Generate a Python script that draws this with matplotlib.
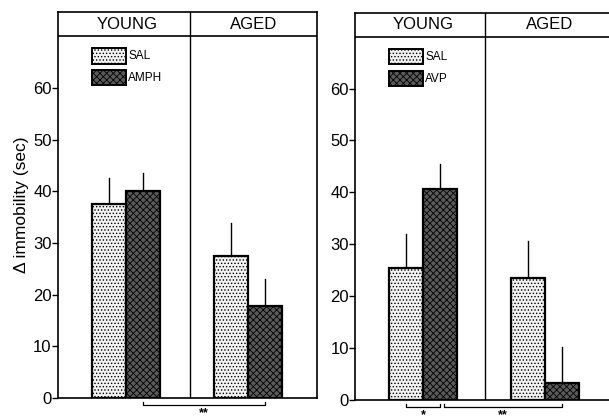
import numpy as np
import matplotlib
matplotlib.use("Agg")
from matplotlib import pyplot as plt
from matplotlib.patches import Rectangle

# values (seconds)
groups = ["YOUNG", "AGED"]
left_drugs = ["SAL", "AMPH"]
left_means = [[37.6, 40.0], [27.5, 17.9]]      # [young, aged] x [SAL, drug]
left_errs = [[4.9, 3.6], [6.3, 5.1]]
right_drugs = ["SAL", "AVP"]
right_means = [[25.4, 40.6], [23.4, 3.1]]
right_errs = [[6.6, 4.9], [7.2, 7.0]]
yticks = [0, 10, 20, 30, 40, 50, 60]
# significance brackets: (from bar, to bar, label), bars indexed young SAL=0, young drug=1, aged SAL=2, aged drug=3
left_sig = [(1, 3, "**")]
right_sig = [(0, 1, "*"), (1, 3, "**")]

plt.rcParams['font.family'] = ['Liberation Sans', 'DejaVu Sans']
plt.rcParams['hatch.linewidth'] = 0.6

W, H = 609, 420
fig = plt.figure(figsize=(W / 100, H / 100), dpi=100)

bar_x = [1.5, 2.5, 5.1, 6.1]
styles = [dict(facecolor="#f2f2f2", hatch="....."),
          dict(facecolor="#5a5a5a", hatch="xxxxx")]


def px_axes(x0, x1, ytop, ybot):
    return fig.add_axes([x0 / W, 1 - ybot / H, (x1 - x0) / W, (ybot - ytop) / H])


def draw_panel(ax, drugs, means, errs, sig, divider):
    ax.set_xlim(0, 7.62)
    ax.set_ylim(0, 74.7)
    for g in range(2):
        for d in range(2):
            i = g * 2 + d
            ax.bar(bar_x[i], means[g][d], width=1.0, edgecolor="black",
                   linewidth=1.6, zorder=3, **styles[d])
            ax.plot([bar_x[i], bar_x[i]], [means[g][d], means[g][d] + errs[g][d]],
                    color="black", lw=1.0, zorder=2)
    ax.axhline(70, color="black", lw=1.2)
    ax.axvline(divider, color="black", lw=1.0)
    ax.text(divider / 2 + 0.1, 72.3, groups[0], ha="center", va="center", fontsize=12)
    ax.text((divider + 7.62) / 2, 72.3, groups[1], ha="center", va="center", fontsize=12)

    # legend boxes
    ys = [(64.7, 67.7), (60.5, 63.4)]
    for d in range(2):
        ax.add_patch(Rectangle((1.0, ys[d][0]), 1.0, ys[d][1] - ys[d][0],
                               edgecolor="black", linewidth=1.4, **styles[d]))
        ax.text(2.06, (ys[d][0] + ys[d][1]) / 2, drugs[d], ha="left", va="center", fontsize=8.5)

    # significance brackets below the baseline
    for a, b, lab in sig:
        xa, xb = bar_x[a], bar_x[b]
        if a == 1 and len(sig) > 1:
            xa += 0.12
        ax.plot([xa, xa, xb, xb], [-0.8, -1.45, -1.45, -0.8], color="black", lw=0.9,
                clip_on=False)
        ax.text((xa + xb) / 2, -4.15, lab, ha="center", va="bottom", fontsize=9,
                fontweight="bold", clip_on=False)

    ax.set_yticks(yticks)
    ax.set_xticks([])
    ax.tick_params(axis="y", direction="out", length=4, width=1, labelsize=12, pad=0.5)
    for s in ax.spines.values():
        s.set_linewidth(1.2)


ax1 = px_axes(58, 317, 12, 398)
draw_panel(ax1, left_drugs, left_means, left_errs, left_sig, 3.88)
ax1.set_ylabel("\u0394 immobility (sec)", fontsize=12.5, labelpad=3)

ax2 = px_axes(355, 614, 12.5, 399.5)
draw_panel(ax2, right_drugs, right_means, right_errs, right_sig, 3.82)

fig.savefig("out.png", dpi=100)
